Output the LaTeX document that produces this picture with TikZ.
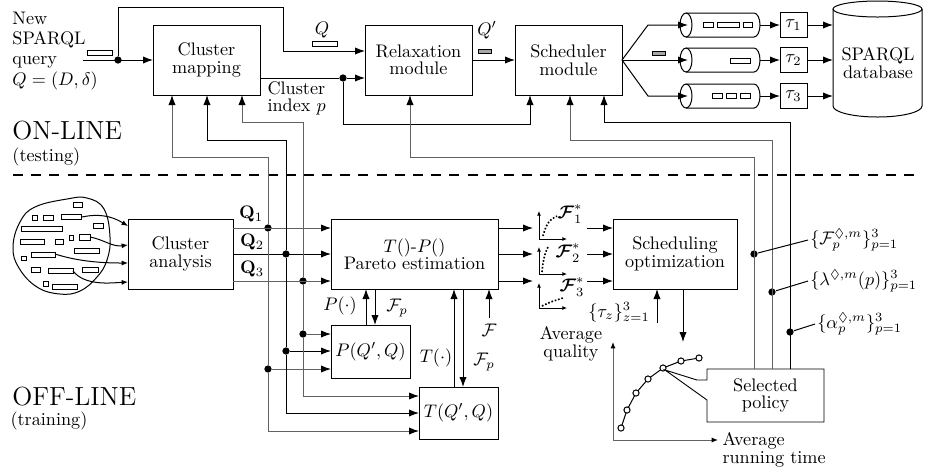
\documentclass[tikz,border=0pt]{standalone}
\usepackage{amsmath,amssymb}
\usetikzlibrary{arrows.meta}
\begin{document}
\begin{tikzpicture}[x=0.55pt,y=-0.55pt,
  line width=0.55pt,
  box/.style={draw, line width=0.5pt, align=center, inner sep=1pt, outer sep=0pt, font=\linespread{0.8}\selectfont},
  ml/.style={align=center, inner sep=0pt, font=\linespread{0.8}\selectfont},
  arr/.style={-{Latex[length=5.5pt,width=4pt,color=black]}},
  sarr/.style={-{Latex[length=3.5pt,width=2.8pt,color=black]}},
  tarr/.style={-{Latex[length=2.5pt,width=2.2pt]}},
  gl/.style={draw=black!62},
  dot/.style={circle, fill, inner sep=0pt, minimum size=4pt},
  pt/.style={circle, draw, fill=white, inner sep=0pt, minimum size=3.4pt},
  qr/.style={draw, inner sep=0pt, fill=white},
  ghost/.style={inner sep=0pt, outer sep=0pt},
]
\useasboundingbox (0,0) rectangle (930,475);

% ---------------- ON-LINE part ----------------
\node[box, minimum width=107*0.55pt, minimum height=70*0.55pt] (cm) at (206.5,60) {Cluster\\mapping};
\node[box, minimum width=107*0.55pt, minimum height=70*0.55pt] (rm) at (418.5,60) {Relaxation\\module};
\node[box, minimum width=107*0.55pt, minimum height=70*0.55pt] (sm) at (568.5,60) {Scheduler\\module};

\node[anchor=west, align=left, inner sep=0pt, font=\linespread{0.92}\selectfont] (newq) at (12,51) {New\\SPARQL\\query\\$Q=(D,\delta)$};
\node[qr, minimum width=25*0.55pt, minimum height=5*0.55pt] (qrect) at (99.5,52.5) {};
\coordinate (qin) at (83,60);
\node[dot] (qd) at (118,60) {};
\draw[arr] (qin) -- (cm.west);
\draw[arr] (qd) -- (118,7) -- (283,7) -- (283,51) -- (rm.west |- 283,51);

\node[inner sep=1pt] (qlab) at (322,30) {$Q$};
\node[qr, minimum width=25*0.55pt, minimum height=5*0.55pt] (qr2) at (324.5,43.5) {};
\node[inner sep=1pt] (qplab) at (487,30) {$Q'$};
\node[qr, fill=black!35, minimum width=13*0.55pt, minimum height=4*0.55pt] (qr3) at (484.5,51) {};
\node[qr, fill=black!35, minimum width=13*0.55pt, minimum height=4*0.55pt] (qr4) at (658.5,53) {};

\node[dot] (ci) at (343,78) {};
\draw (cm.east |- ci) -- (ci);
\draw[arr] (ci) -- (rm.west |- ci);
\draw[arr] (ci) -- (343,124) -| (sm.south -| 530,0);
\node[anchor=north west, align=left, inner sep=0pt, font=\linespread{0.8}\selectfont] (cil) at (267,81) {Cluster\\index $p$};

\draw[arr] (rm.east) -- (sm.west);

% queues
\foreach \i/\c in {1/25,2/60,3/96} {
  \node[ghost, minimum width=80*0.55pt, minimum height=24*0.55pt] (qu\i) at (720,\c) {};
  \draw (686,\c-12) -- (754,\c-12) arc[start angle=-90,end angle=90,x radius=6,y radius=12] -- (686,\c+12);
  \draw (686,\c) ellipse [x radius=6, y radius=12];
  \node[box, minimum width=27*0.55pt, minimum height=25*0.55pt] (t\i) at (793.5,\c) {$\tau_\i$};
  \draw[arr] (qu\i.east) -- (t\i.west);
}
\draw[arr] (sm.east) -- (648,25) -- ([xshift=4.4pt]qu1.west);
\draw[arr] (sm.east) -- ([xshift=4.4pt]qu2.west);
\draw[arr] (sm.east) -- (648,96) -- ([xshift=4.4pt]qu3.west);

% queue items
\draw[fill=white] (703,22) rectangle (713,27) (717,22) rectangle (739,27) (743,22) rectangle (752,27);
\draw[fill=white] (730,58) rectangle (750,63);
\draw[fill=white] (712,93) rectangle (722,98) (726,93) rectangle (736,98) (740,93) rectangle (750,98);

% database
\node[ghost, minimum width=89*0.55pt, minimum height=110*0.55pt] (db) at (877.5,60) {};
\draw (833,9) -- (833,106) arc[start angle=180,end angle=0,x radius=44.5,y radius=11] -- (922,9);
\draw (877.5,9) ellipse [x radius=44.5, y radius=8];
\node[ml] (dbt) at (878,63) {SPARQL\\database};
\foreach \i in {1,2,3} { \draw[arr] (t\i.east) -- (db.west |- t\i.east); }

% separator and titles
\draw[line width=1.6pt, dash pattern=on 5.5pt off 4.5pt] (13,175) -- (920,175);
\node[anchor=west, inner sep=0pt] (onl) at (12,131) {\Large ON-LINE};
\node[anchor=west, inner sep=0pt] (ont) at (12,157) {(testing)};
\node[anchor=west, inner sep=0pt] (offl) at (12,397) {\Large OFF-LINE};
\node[anchor=west, inner sep=0pt] (offt) at (10,421) {(training)};

% ---------------- OFF-LINE part ----------------
\draw plot[smooth cycle, tension=0.7] coordinates {(13,247) (20,222) (35,207) (67,199) (87,198) (104,209) (110,237) (107,260) (97,277) (80,291) (60,294) (37,287) (19,268)};
\draw[fill=white] (73,202) rectangle (82,207) (32,215) rectangle (37,220) (43,215) rectangle (53,220)
  (61,214) rectangle (81,219) (93,223) rectangle (103,228) (21,226) rectangle (62,231)
  (20,239) rectangle (44,244) (55,239) rectangle (63,244) (69,235) rectangle (73,240)
  (79,234) rectangle (90,240) (74,248) rectangle (99,253) (21,256) rectangle (26,260)
  (31,252) rectangle (55,257) (31,267) rectangle (40,272) (48,268) rectangle (73,273)
  (82,267) rectangle (98,272) (43,281) rectangle (48,286) (52,284) rectangle (77,289);

\node[box, minimum width=105*0.55pt, minimum height=70*0.55pt] (ca) at (180.5,254) {Cluster\\analysis};
\draw[sarr] (82,217) .. controls (105,212) and (118,220) .. (ca.west |- 0,226);
\draw[sarr] (90,237) .. controls (105,240) and (112,247) .. (ca.west |- 0,245);
\draw[sarr] (55,254) .. controls (80,262) and (105,263) .. (ca.west |- 0,263);
\draw[sarr] (73,271) .. controls (85,286) and (110,283) .. (ca.west |- 0,282);

\node (q1l) at (251,214) {$\mathbf{Q}_1$};
\node (q2l) at (252,242) {$\mathbf{Q}_2$};
\node (q3l) at (252,269) {$\mathbf{Q}_3$};

\node[box, minimum width=167*0.55pt, minimum height=70*0.55pt] (pe) at (414.5,254) {$T()$-$P()$\\Pareto estimation};
\node[box, minimum width=124*0.55pt, minimum height=70*0.55pt] (so) at (675,254) {Scheduling\\optimization};
\node[box, minimum width=79*0.55pt, minimum height=53*0.55pt] (pq) at (370.5,351.5) {$P(Q',Q)$};
\node[box, minimum width=79*0.55pt, minimum height=52*0.55pt] (tq) at (458.5,413) {$T(Q',Q)$};

\node[dot] (d1) at (268,228) {};
\node[dot] (d2) at (286,254) {};
\node[dot] (d3) at (303,281) {};
\node[dot] (p1) at (268,369) {};
\node[dot] (p2) at (286,351) {};
\node[dot] (p3) at (303,334) {};

\draw[gl, arr] (ca.east |- d1) -- (pe.west |- d1);
\draw[arr] (ca.east |- d2) -- (pe.west |- d2);
\draw[gl, arr] (ca.east |- d3) -- (pe.west |- d3);

\draw[gl, arr] (d1) -- (268,157) -| (cm.south -| 172,0);
\draw[arr] (d2) -- (286,140) -| (cm.south -| 207,0);
\draw[gl, arr] (d3) -- (303,122) -| (cm.south -| 242,0);

\draw[gl] (d1) -- (p1);
\draw[gl, arr] (p1) -- (pq.west |- p1);
\draw[gl, arr] (p1) |- (tq.west |- 0,431);
\draw (d2) -- (p2);
\draw[arr] (p2) -- (pq.west |- p2);
\draw[arr] (p2) |- (tq.west |- 0,413);
\draw[gl] (d3) -- (p3);
\draw[gl, arr] (p3) -- (pq.west |- p3);
\draw[gl, arr] (p3) |- (tq.west |- 0,396);

% Pareto outputs and mini plots
\foreach \k/\y in {1/228,2/254,3/281} {
  \coordinate (po\k) at (533,\y);
  \coordinate (pi\k) at (587,\y);
  \draw[arr] (pe.east |- po\k) -- (po\k);
  \draw[arr] (pi\k) -- (so.west |- pi\k);
}
\draw[tarr] (539,239) -- (539,211);
\draw[tarr] (539,239) -- (567,239);
\draw[densely dotted, line width=0.9pt] (543,236) .. controls (546,224) and (550,219) .. (557,216);
\draw[tarr] (539,274) -- (539,247);
\draw[tarr] (539,274) -- (567,274);
\draw[densely dotted, line width=0.9pt] (542,272) .. controls (543,262) and (544,255) .. (548,247);
\draw[tarr] (539,308) -- (539,283);
\draw[tarr] (539,308) -- (567,308);
\draw[densely dotted, line width=0.9pt] (542,306) .. controls (550,302) and (556,300) .. (563,298);
\node[inner sep=0pt] (f1s) at (570,214) {$\boldsymbol{\mathcal{F}}_1^*$};
\node[inner sep=0pt] (f2s) at (568,253) {$\boldsymbol{\mathcal{F}}_2^*$};
\node[inner sep=0pt] (f3s) at (572,287) {$\boldsymbol{\mathcal{F}}_3^*$};

% P and T feedback
\node (plab) at (340,306) {$P(\cdot)$};
\draw[arr] (pq.north -| 366,0) -- (pe.south -| 366,0);
\draw[arr] (pe.south -| 375,0) -- (pq.north -| 375,0);
\node (fplab1) at (397,308) {$\mathcal{F}_p$};
\node (tlab) at (436,358) {$T(\cdot)$};
\draw[arr] (tq.north -| 454,0) -- (pe.south -| 454,0);
\draw[arr] (pe.south -| 463,0) -- (tq.north -| 463,0);
\node (fplab2) at (484,362) {$\mathcal{F}_p$};
\node (flab) at (489,330) {$\mathcal{F}$};
\draw[arr] (489,318) -- (pe.south -| 489,0);

% scheduling outputs
\node (tz) at (619,312) {$\{\tau_z\}_{z=1}^3$};
\coordinate (tzs) at (657,323);
\draw[arr] (tzs) -- (so.south -| tzs);
\coordinate (soe) at (683,342);
\draw[arr] (so.south -| soe) -- (soe);

% pareto front plot
\draw[gl, sarr] (613,440) -- (613,342);
\draw[gl, sarr] (613,440) -- (718,440);
\node[ml] (aq) at (571,344) {Average\\quality};
\node[anchor=west, align=left, inner sep=0pt, font=\linespread{0.8}\selectfont] (art) at (722,450) {Average\\running time};
\draw (621,428) -- (627,410) -- (636,393) -- (648,379) -- (663,368) -- (681,361) -- (699,358);
\foreach \p in {(621,428),(627,410),(636,393),(648,379),(663,368),(681,361),(699,358)} { \node[pt] at \p {}; }

% selected policy callout
\draw[fill=white, line width=0.5pt] (707,380) -- (707,369) -- (824,369) -- (824,422) -- (707,422) -- (707,400) -- (665,370) -- (697,380) -- cycle;
\node[ml, minimum width=117*0.55pt, minimum height=53*0.55pt] (sp) at (765.5,395.5) {Selected\\policy};

% feedback to on-line modules
\node[dot] (f1) at (754,254) {};
\node[dot] (f2) at (772,292) {};
\node[dot] (f3) at (790,332) {};
\draw[gl, arr] (sp.north -| f1) -- (754,157) -| (rm.south -| 410,0);
\draw[gl, arr] (sp.north -| f2) -- (772,140) -| (sm.south -| 570,0);
\draw[arr] (sp.north -| f3) -- (790,122) -| (sm.south -| 604,0);

\node[anchor=west, inner sep=1pt] (lf) at (808,240) {$\{\mathcal{F}_p^{\Diamond,m}\}_{p=1}^3$};
\node[anchor=west, inner sep=1pt] (ll) at (808,281) {$\{\lambda^{\Diamond,m}(p)\}_{p=1}^3$};
\node[anchor=west, inner sep=1pt] (la) at (815,324) {$\{\alpha_p^{\Diamond,m}\}_{p=1}^3$};
\draw (f1) -- (lf.west);
\draw (f2) -- (ll.west);
\draw (f3) -- (la.west);
\end{tikzpicture}
\end{document}
